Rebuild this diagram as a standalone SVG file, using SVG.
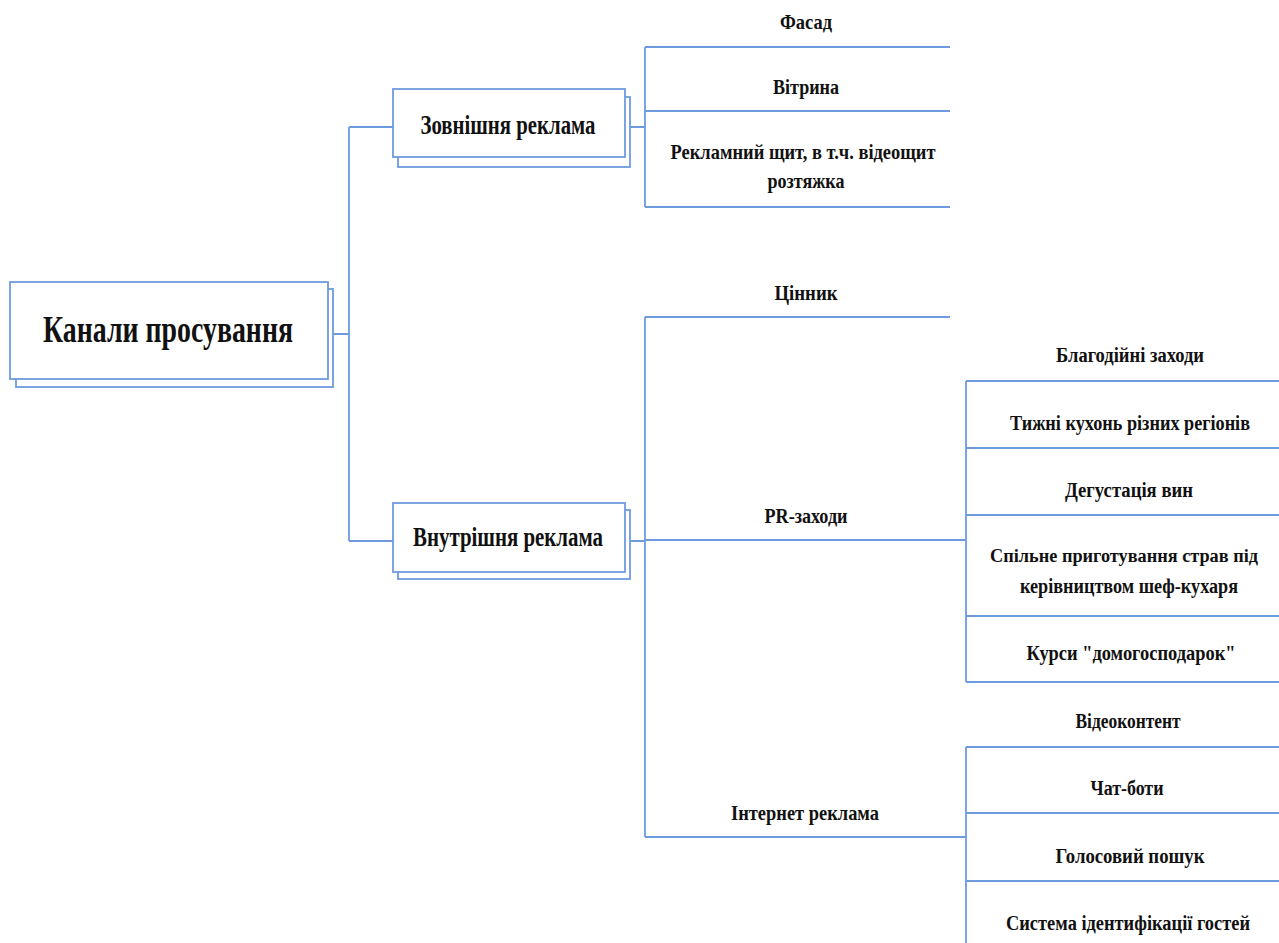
<svg xmlns="http://www.w3.org/2000/svg" width="1279" height="943" viewBox="0 0 1279 943">
<style>
.bx{fill:#fff;stroke:#6e9be0;stroke-width:1.8}
.ln{fill:none;stroke:#6e9be0;stroke-width:1.8}
text{font-family:"Liberation Serif","Times New Roman",serif;font-weight:bold;fill:#111;text-anchor:middle}
.s{font-size:22px}
.r{font-size:20px}
.t{font-size:18px}
.m{font-size:27px}
.l{font-size:37px}
</style>
<rect width="1279" height="943" fill="#fff"/>
<g id="connectors">
<path class="ln" d="M333 334H349M349 127V541M349 127H393M349 541H393"/>
<path class="ln" d="M630 127H645M645 47V207M645 47H950M645 111H950M645 207H950"/>
<path class="ln" d="M630 541H645M645 317V837M645 317H950M645 540H966M645 837H966"/>
<path class="ln" d="M966 381V682M966 381H1279M966 448H1279M966 515H1279M966 616H1279M966 682H1279"/>
<path class="ln" d="M966 747V943M966 747H1279M966 813H1279M966 881H1279"/>
</g>
<g id="root">
<rect class="bx" x="16" y="289" width="317" height="98"/>
<rect class="bx" x="10" y="282" width="318" height="97"/>
<text class="l" x="168" y="342" textLength="250" lengthAdjust="spacingAndGlyphs">Канали просування</text>
</g>
<g id="outdoor">
<rect class="bx" x="398" y="97" width="232" height="70"/>
<rect class="bx" x="393" y="89" width="232" height="68"/>
<text class="m" x="508" y="134" textLength="175" lengthAdjust="spacingAndGlyphs">Зовнішня реклама</text>
</g>
<g id="indoor">
<rect class="bx" x="398" y="510" width="232" height="69"/>
<rect class="bx" x="393" y="503" width="232" height="69"/>
<text class="m" x="508" y="546" textLength="190" lengthAdjust="spacingAndGlyphs">Внутрішня реклама</text>
</g>
<g id="facade"><text class="s" x="806" y="29" textLength="52" lengthAdjust="spacingAndGlyphs">Фасад</text></g>
<g id="vitryna"><text class="s" x="806" y="94" textLength="66" lengthAdjust="spacingAndGlyphs">Вітрина</text></g>
<g id="billboard">
<text class="s" x="803" y="159" textLength="265" lengthAdjust="spacingAndGlyphs">Рекламний щит, в т.ч. відеощит</text>
<text class="s" x="806" y="188" textLength="77" lengthAdjust="spacingAndGlyphs">розтяжка</text>
</g>
<g id="price"><text class="s" x="806" y="300" textLength="63" lengthAdjust="spacingAndGlyphs">Цінник</text></g>
<g id="pr"><text class="s" x="806" y="523" textLength="83" lengthAdjust="spacingAndGlyphs">PR-заходи</text></g>
<g id="internet"><text class="s" x="805" y="820" textLength="148" lengthAdjust="spacingAndGlyphs">Інтернет реклама</text></g>
<g id="charity"><text class="r" x="1130" y="362" textLength="148" lengthAdjust="spacingAndGlyphs">Благодійні заходи</text></g>
<g id="weeks"><text class="r" x="1130" y="430" textLength="240" lengthAdjust="spacingAndGlyphs">Тижні кухонь різних регіонів</text></g>
<g id="wine"><text class="r" x="1129" y="497" textLength="128" lengthAdjust="spacingAndGlyphs">Дегустація вин</text></g>
<g id="cooking">
<text class="t" x="1124" y="562" textLength="268" lengthAdjust="spacingAndGlyphs">Спільне приготування страв під</text>
<text class="r" x="1129" y="593" textLength="218" lengthAdjust="spacingAndGlyphs">керівництвом шеф-кухаря</text>
</g>
<g id="courses"><text class="r" x="1131" y="660" textLength="209" lengthAdjust="spacingAndGlyphs">Курси "домогосподарок"</text></g>
<g id="video"><text class="r" x="1128" y="728" textLength="105" lengthAdjust="spacingAndGlyphs">Відеоконтент</text></g>
<g id="chatbots"><text class="r" x="1127" y="795" textLength="73" lengthAdjust="spacingAndGlyphs">Чат-боти</text></g>
<g id="voice"><text class="r" x="1130" y="863" textLength="149" lengthAdjust="spacingAndGlyphs">Голосовий пошук</text></g>
<g id="guestid"><text class="r" x="1128" y="930" textLength="244" lengthAdjust="spacingAndGlyphs">Система ідентифікації гостей</text></g>
</svg>
